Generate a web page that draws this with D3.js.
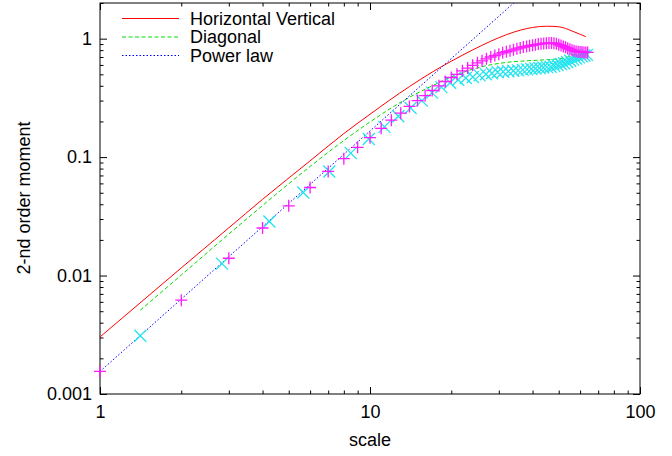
<!DOCTYPE html>
<html>

<head>
    <script type="text/javascript" src="https://cdnjs.cloudflare.com/ajax/libs/d3/7.8.5/d3.min.js"></script>
    <style>
        body {
            margin: 0;
            background: white;
        }

        svg text {
            font-family: "Liberation Sans", Arial, sans-serif;
            font-size: 18px;
            fill: black;
        }

        .axis path {
            display: none;
        }

        .axis line {
            stroke: black;
        }
    </style>
</head>

<body>
    <script>
        // Horizontal Vertical (red solid line)
        var hvScale = [1, 2, 3, 4, 6, 8, 10, 14, 17, 20, 24, 28, 32, 36, 40, 45, 48, 50, 53, 56, 60, 63];
        var hvValue = [0.00303, 0.0116, 0.0253, 0.044, 0.093, 0.158, 0.23, 0.394, 0.522, 0.645, 0.803, 0.951, 1.08, 1.179, 1.243, 1.273, 1.27, 1.26, 1.22, 1.16, 1.09, 1.04];

        // Diagonal (green dashed line)
        var diagScale = [1.41, 2, 2.83, 4, 5.66, 8, 10, 12, 14, 17, 20, 23, 26, 29, 33, 38, 43, 48, 52, 56, 60, 62.2];
        var diagValue = [0.0051, 0.0101, 0.020, 0.039, 0.075, 0.138, 0.198, 0.26, 0.32, 0.40, 0.475, 0.535, 0.58, 0.61, 0.635, 0.65, 0.66, 0.67, 0.685, 0.72, 0.77, 0.79];

        // Power law (blue dotted line)
        var powerScale = [1, 100];
        var powerValue = [0.00155, 17.8];

        // magenta "+" points (integer scales)
        var plusScale = [1, 2, 3, 4, 5, 6, 7, 8, 9, 10, 11, 12, 13, 14, 15, 16, 17, 18, 19, 20, 21, 22, 23, 24, 25, 26, 27, 28, 29, 30, 31, 32,
            33, 34, 35, 36, 37, 38, 39, 40, 41, 42, 43, 44, 45, 46, 47, 48, 49, 50, 51, 52, 53, 54, 55, 56, 57, 58, 59, 60, 61, 62, 63, 64];
        var plusValue = [0.00155, 0.0062, 0.014, 0.0252, 0.0388, 0.0554, 0.0757, 0.097, 0.121, 0.146, 0.175, 0.205, 0.235, 0.268, 0.30, 0.33,
            0.365, 0.40, 0.435, 0.47, 0.50, 0.535, 0.565, 0.595, 0.625, 0.65, 0.675, 0.70, 0.72, 0.74, 0.76, 0.775,
            0.79, 0.805, 0.82, 0.835, 0.85, 0.86, 0.87, 0.88, 0.89, 0.90, 0.905, 0.91, 0.915, 0.92, 0.92, 0.915,
            0.905, 0.89, 0.875, 0.86, 0.845, 0.83, 0.815, 0.80, 0.79, 0.78, 0.775, 0.77, 0.77, 0.765, 0.765, 0.765];

        // cyan "x" points (diagonal scales)
        var crossScale = [1.41, 2.83, 4.24, 5.66, 7.07, 8.49, 9.9, 11.31, 12.73, 14.14, 15.56, 16.97, 18.38, 19.8, 21.21, 22.63, 24.04, 25.46,
            26.87, 28.28, 29.7, 31.11, 32.53, 33.94, 35.36, 36.77, 38.18, 39.6, 41.01, 42.43, 43.84, 45.25, 46.67, 48.08, 49.5,
            50.91, 52.33, 53.74, 55.15, 56.57, 57.98, 59.4, 60.81, 62.23, 63.64];
        var crossValue = [0.0031, 0.0126, 0.0286, 0.0503, 0.0757, 0.108, 0.142, 0.18, 0.221, 0.26, 0.30, 0.35, 0.39, 0.425, 0.45, 0.465, 0.475, 0.49,
            0.50, 0.51, 0.52, 0.525, 0.53, 0.535, 0.54, 0.545, 0.55, 0.555, 0.56, 0.565, 0.57, 0.575, 0.58, 0.59, 0.60,
            0.61, 0.62, 0.635, 0.65, 0.665, 0.68, 0.695, 0.71, 0.72, 0.73];

        var xMajor = [1, 10, 100];
        var xMinor = [2, 3, 4, 5, 6, 7, 8, 9, 20, 30, 40, 50, 60, 70, 80, 90];
        var yMajor = [0.001, 0.01, 0.1, 1];
        var yMinor = [0.002, 0.003, 0.004, 0.005, 0.006, 0.007, 0.008, 0.009, 0.02, 0.03, 0.04, 0.05, 0.06, 0.07, 0.08, 0.09,
            0.2, 0.3, 0.4, 0.5, 0.6, 0.7, 0.8, 0.9, 2];
        var yLabels = ['0.001', '0.01', '0.1', '1'];

        var W = 672, H = 456;
        var plotL = 100, plotR = 640, plotT = 3, plotB = 394;

        var x = d3.scaleLog().domain([1, 100]).range([plotL, plotR]);
        var y = d3.scaleLog().domain([0.001, 2]).range([plotB, plotT]);

        var svg = d3.select('body').append('svg')
            .attr('width', W)
            .attr('height', H);

        svg.append('clipPath').attr('id', 'plot')
            .append('rect')
            .attr('x', plotL).attr('y', plotT)
            .attr('width', plotR - plotL).attr('height', plotB - plotT);

        // axes, ticks pointing inward on all four sides
        function addAxis(axis, tx, ty) {
            svg.append('g').attr('class', 'axis')
                .attr('transform', 'translate(' + tx + ',' + ty + ')')
                .call(axis);
        }
        addAxis(d3.axisBottom(x).tickValues(xMajor).tickSize(-7).tickPadding(11).tickFormat(d3.format('d')), 0, plotB);
        addAxis(d3.axisBottom(x).tickValues(xMinor).tickSize(-3.5).tickFormat(''), 0, plotB);
        addAxis(d3.axisTop(x).tickValues(xMajor).tickSize(-7).tickFormat(''), 0, plotT);
        addAxis(d3.axisTop(x).tickValues(xMinor).tickSize(-3.5).tickFormat(''), 0, plotT);
        addAxis(d3.axisLeft(y).tickValues(yMajor).tickSize(-7).tickPadding(8).tickFormat(function(d, i) {
            return yLabels[i];
        }), plotL, 0);
        addAxis(d3.axisLeft(y).tickValues(yMinor).tickSize(-3.5).tickFormat(''), plotL, 0);
        addAxis(d3.axisRight(y).tickValues(yMajor).tickSize(-7).tickFormat(''), plotR, 0);
        addAxis(d3.axisRight(y).tickValues(yMinor).tickSize(-3.5).tickFormat(''), plotR, 0);

        svg.selectAll('.axis text')
            .style('font-size', '18px')
            .style('font-family', '"Liberation Sans", Arial, sans-serif');

        svg.append('rect')
            .attr('x', plotL).attr('y', plotT)
            .attr('width', plotR - plotL).attr('height', plotB - plotT)
            .attr('fill', 'none')
            .attr('stroke', 'black')
            .attr('stroke-width', 1);

        // lines
        var line = d3.line()
            .x(function(d) { return x(d[0]); })
            .y(function(d) { return y(d[1]); })
            .curve(d3.curveMonotoneX);

        var lines = [
            { s: hvScale, v: hvValue, color: '#ff0000', dash: null, name: 'Horizontal Vertical' },
            { s: diagScale, v: diagValue, color: '#00dd00', dash: '4,2.5', name: 'Diagonal' },
            { s: powerScale, v: powerValue, color: '#0000ff', dash: '1.5,2', name: 'Power law' }
        ];

        var plot = svg.append('g').attr('clip-path', 'url(#plot)');
        lines.forEach(function(l) {
            plot.append('path')
                .datum(d3.zip(l.s, l.v))
                .attr('d', line)
                .attr('fill', 'none')
                .attr('stroke', l.color)
                .attr('stroke-width', 1)
                .attr('stroke-dasharray', l.dash);
        });

        // cyan crosses
        var r = 6;
        svg.append('g').selectAll('path')
            .data(d3.zip(crossScale, crossValue))
            .enter().append('path')
            .attr('d', function(d) {
                var cx = x(d[0]), cy = y(d[1]);
                return 'M' + (cx - r) + ',' + (cy - r) + 'L' + (cx + r) + ',' + (cy + r) +
                    'M' + (cx - r) + ',' + (cy + r) + 'L' + (cx + r) + ',' + (cy - r);
            })
            .attr('stroke', '#22e4ee')
            .attr('stroke-width', 1.3)
            .attr('fill', 'none');

        // magenta plus
        svg.append('g').selectAll('path')
            .data(d3.zip(plusScale, plusValue))
            .enter().append('path')
            .attr('d', function(d) {
                var cx = x(d[0]), cy = y(d[1]);
                return 'M' + (cx - r) + ',' + cy + 'L' + (cx + r) + ',' + cy +
                    'M' + cx + ',' + (cy - r) + 'L' + cx + ',' + (cy + r);
            })
            .attr('stroke', '#ff1aff')
            .attr('stroke-width', 1.3)
            .attr('fill', 'none');

        // legend
        var legend = svg.append('g');
        lines.forEach(function(l, i) {
            var ly = 18.5 + i * 18.5;
            legend.append('line')
                .attr('x1', 122).attr('x2', 179)
                .attr('y1', ly).attr('y2', ly)
                .attr('stroke', l.color)
                .attr('stroke-width', 1)
                .attr('stroke-dasharray', l.dash);
            legend.append('text')
                .attr('x', 190).attr('y', ly)
                .attr('dy', '0.35em')
                .text(l.name);
        });

        // axis titles
        svg.append('text')
            .attr('x', (plotL + plotR) / 2)
            .attr('y', 446)
            .attr('text-anchor', 'middle')
            .text('scale');

        svg.append('text')
            .attr('transform', 'translate(30,198) rotate(-90)')
            .attr('text-anchor', 'middle')
            .text('2-nd order moment');
    </script>
</body>

</html>
